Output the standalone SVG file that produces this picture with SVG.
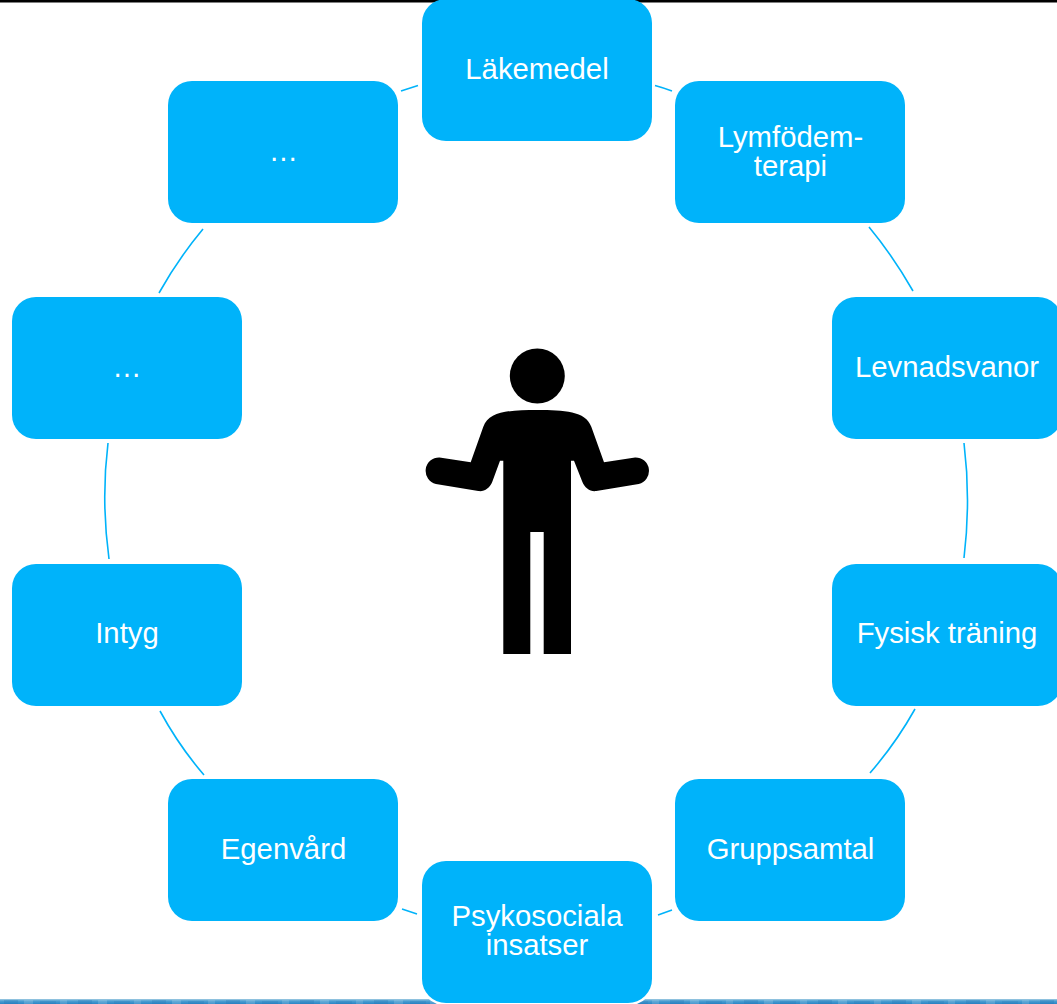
<svg xmlns="http://www.w3.org/2000/svg" width="1057" height="1004" viewBox="0 0 1057 1004">
<style>
.n{fill:#00b3fa}
.h{stroke:#fff;stroke-width:5;paint-order:stroke}
text{font-family:"Liberation Sans",Arial,sans-serif;font-size:29.3px;fill:#fff;text-anchor:middle}
.c{fill:none;stroke:#00b3fa;stroke-width:1.6}
</style>
<defs>
<linearGradient id="band" x1="0" y1="0" x2="0" y2="1"><stop offset="0" stop-color="#a4cce2"/><stop offset=".4" stop-color="#4d9fd2"/><stop offset="1" stop-color="#2a86c6"/></linearGradient>
<pattern id="mottle" width="74" height="5" patternUnits="userSpaceOnUse" y="999">
<rect x="4" y="1" width="14" height="4" fill="#1f6fb0" opacity=".25"/>
<rect x="24" y="1" width="9" height="4" fill="#cfe6f3" opacity=".2"/>
<rect x="40" y="2" width="16" height="3" fill="#1f6fb0" opacity=".2"/>
<rect x="60" y="1" width="7" height="4" fill="#cfe6f3" opacity=".18"/>
</pattern>
<rect id="b" width="230" height="142" rx="24" ry="24"/>
</defs>
<rect width="1057" height="1004" fill="#fff"/>
<rect id="top-bar" width="1057" height="2.5" fill="#000"/>
<g id="bottom-band"><rect y="999" width="1057" height="5" fill="url(#band)"/><rect y="999" width="1057" height="5" fill="url(#mottle)"/></g>
<g id="connectors" class="c">
<path d="M655 85.500Q664 88 672 91"/>
<path d="M869 227Q893 256 913 291"/>
<path d="M964 443Q971 500 964 558"/>
<path d="M915 709Q896 743 870 773"/>
<path d="M672 910L658 915"/>
<path d="M417 914L402 909"/>
<path d="M204 775Q179 746 160 711"/>
<path d="M109 559Q101 500 108 443"/>
<path d="M159 293Q178 259 203 229"/>
<path d="M401 91L418 85.500"/>
</g>
<g id="person">
<circle cx="537.300" cy="376" r="27.500" fill="#000"/>
<path fill="#000" d="M537.300 410C510 410 489 411 483.300 426.700L470.700 462.300L439.500 457.400A13.500 13.500 0 0 0 435.900 484L478.300 491C484 492 490 488 492.300 481.700L500 460.700H503.300V654H530.300V532H543.700V654H571V460.700H574L582.300 481.700C584.600 488 590.600 492 596.300 491L638.700 484A13.500 13.500 0 0 0 635.100 457.400L604 462.300L591.300 426.700C585.600 411 564 410 537.300 410Z"/>
</g>
<g id="node-lakemedel"><use href="#b" class="n" x="422" y="-1"/><text x="537" y="79">Läkemedel</text></g>
<g id="node-lymfodem"><use href="#b" class="n" x="675" y="81"/><text x="790.500" y="147">Lymfödem-</text><text x="790.500" y="176">terapi</text></g>
<g id="node-levnadsvanor"><use href="#b" class="n" x="832" y="297"/><text x="947" y="377">Levnadsvanor</text></g>
<g id="node-fysisk"><use href="#b" class="n" x="832" y="564"/><text x="947" y="643">Fysisk träning</text></g>
<g id="node-gruppsamtal"><use href="#b" class="n" x="675" y="779"/><text x="790.500" y="859">Gruppsamtal</text></g>
<g id="node-psykosociala"><use href="#b" class="n h" x="422" y="861"/><text x="537" y="926">Psykosociala</text><text x="537" y="955">insatser</text></g>
<g id="node-egenvard"><use href="#b" class="n" x="168" y="779"/><text x="283.500" y="859">Egenvård</text></g>
<g id="node-intyg"><use href="#b" class="n" x="12" y="564"/><text x="127" y="643">Intyg</text></g>
<g id="node-etc1"><use href="#b" class="n" x="12" y="297"/><text x="127" y="377">…</text></g>
<g id="node-etc2"><use href="#b" class="n" x="168" y="81"/><text x="283.500" y="161">…</text></g>
</svg>
